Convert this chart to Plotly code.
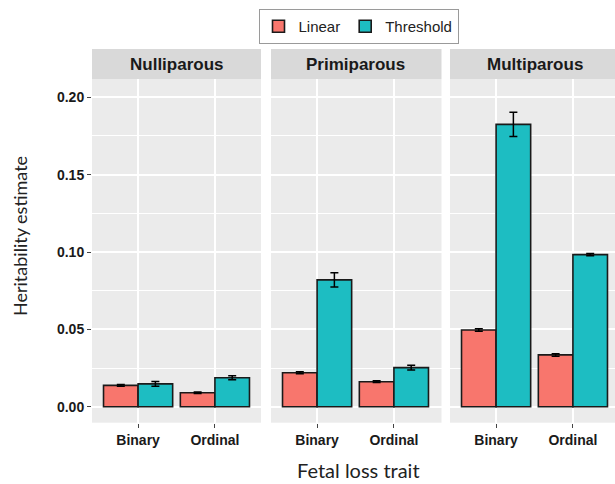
import plotly.graph_objects as go

# Heritability estimates by parity group, fetal loss trait and model
parities = ["Nulliparous", "Primiparous", "Multiparous"]
traits = ["Binary", "Ordinal"]
y_ticks = [0, 0.05, 0.10, 0.15, 0.20]
linear_h2 = {
    "Nulliparous": [0.0138, 0.0091],
    "Primiparous": [0.0220, 0.0162],
    "Multiparous": [0.0496, 0.0335],
}
linear_se = {
    "Nulliparous": [0.0006, 0.0005],
    "Primiparous": [0.0007, 0.0006],
    "Multiparous": [0.0008, 0.0008],
}
threshold_h2 = {
    "Nulliparous": [0.0148, 0.0187],
    "Primiparous": [0.0820, 0.0253],
    "Multiparous": [0.1825, 0.0983],
}
threshold_se = {
    "Nulliparous": [0.0016, 0.0013],
    "Primiparous": [0.0046, 0.0016],
    "Multiparous": [0.0078, 0.0007],
}

LINEAR_COL = "#F8766D"
THRESH_COL = "#1DBDC2"
PANEL_BG = "#EBEBEB"
STRIP_BG = "#D9D9D9"
W, H = 615, 484

# panel extents in pixels (left, right); y from top
panels_px = [(92, 261), (271, 441.5), (450, 615)]
panel_top, panel_bottom = 79, 422.7
strip_top = 49
unit_px = 169 / 2.2  # pixels per category unit

fig = go.Figure()
x_pos = [0, 1]
for i, p in enumerate(parities):
    ax = "" if i == 0 else str(i + 1)
    fig.add_trace(go.Bar(
        x=x_pos, y=linear_h2[p], name="Linear", legendgroup="Linear",
        showlegend=(i == 0), marker=dict(color=LINEAR_COL, line=dict(color="#1a1a1a", width=1.6)),
        error_y=dict(type="data", array=linear_se[p], color="black", thickness=1.5, width=4),
        xaxis="x" + ax, yaxis="y" + ax,
    ))
    fig.add_trace(go.Bar(
        x=x_pos, y=threshold_h2[p], name="Threshold", legendgroup="Threshold",
        showlegend=(i == 0), marker=dict(color=THRESH_COL, line=dict(color="#1a1a1a", width=1.6)),
        error_y=dict(type="data", array=threshold_se[p], color="black", thickness=1.5, width=4),
        xaxis="x" + ax, yaxis="y" + ax,
    ))

y_dom = [1 - panel_bottom / H, 1 - panel_top / H]
y_range = [-0.0103, 0.2118]
tick_font = dict(size=14, color="#1a1a1a", family="Liberation Sans, Arial")
layout = dict(
    width=W, height=H,
    margin=dict(l=0, r=0, t=0, b=0),
    paper_bgcolor="white",
    plot_bgcolor=PANEL_BG,
    barmode="group", bargap=0.1, bargroupgap=0,
    font=dict(family="Liberation Sans, Arial, sans-serif", color="#222"),
    showlegend=True,
    legend=dict(
        orientation="h", x=358.5 / W, y=1 - 9 / H, xanchor="center", yanchor="top",
        bordercolor="#9a9a9a", borderwidth=1, bgcolor="white",
        font=dict(size=15, color="#222"), itemwidth=30,
    ),
)

for i, p in enumerate(parities):
    ax = "" if i == 0 else str(i + 1)
    l, r = panels_px[i]
    span = (r - l) / unit_px
    layout["xaxis" + ax] = dict(
        domain=[l / W, r / W], range=[-0.6, -0.6 + span],
        tickvals=x_pos, ticktext=[f"<b>{t}</b>" for t in traits],
        ticks="outside", ticklen=4, tickcolor="#444", tickwidth=1.2,
        tickfont=tick_font,
        showgrid=True, gridcolor="white", gridwidth=1.8, zeroline=False,
        anchor="y" + ax, fixedrange=True,
    )
    layout["yaxis" + ax] = dict(
        domain=y_dom, range=y_range, anchor="x" + ax,
        tickvals=y_ticks,
        ticktext=[f"<b>{v:.2f}</b>" for v in y_ticks],
        showticklabels=(i == 0), ticks="outside" if i == 0 else "",
        ticklen=4, tickcolor="#444", tickwidth=1.2,
        tickfont=tick_font,
        showgrid=True, gridcolor="white", gridwidth=1.8, zeroline=False,
        minor=dict(tickvals=[0.025, 0.075, 0.125, 0.175], showgrid=True,
                   gridcolor="white", gridwidth=0.8),
        fixedrange=True,
    )
fig.update_layout(**layout)

# facet strips
for i, p in enumerate(parities):
    l, r = panels_px[i]
    fig.add_shape(type="rect", xref="paper", yref="paper",
                  x0=l / W, x1=r / W, y0=1 - panel_top / H, y1=1 - strip_top / H,
                  fillcolor=STRIP_BG, line=dict(width=0), layer="below")
    fig.add_annotation(text=f"<b>{p}</b>", xref="paper", yref="paper",
                       x=(l + (l + 169.5)) / 2 / W, y=1 - (strip_top + panel_top) / 2 / H,
                       showarrow=False, font=dict(size=17, color="#1a1a1a"),
                       xanchor="center", yanchor="middle")

# axis titles
fig.add_annotation(text="Fetal loss trait", xref="paper", yref="paper",
                   x=358 / W, y=0.5 / H, showarrow=False,
                   font=dict(size=20, family="Lato, Noto Sans, sans-serif", color="#222"),
                   xanchor="center", yanchor="bottom")
fig.add_annotation(text="Heritability estimate", xref="paper", yref="paper",
                   x=20 / W, y=1 - 236 / H, showarrow=False, textangle=-90,
                   font=dict(size=18, family="Lato, Noto Sans, sans-serif", color="#222"),
                   xanchor="center", yanchor="middle")

fig.write_html("out.html")
